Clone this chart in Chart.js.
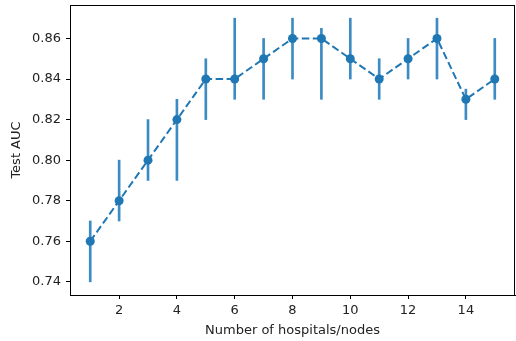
<!DOCTYPE html>
<html>
<head>
<meta charset="utf-8">
<script src="https://cdn.jsdelivr.net/npm/chart.js@4/dist/chart.umd.min.js"></script>
<style>
  html, body { margin: 0; padding: 0; background: #fff; }
  #wrap { width: 516px; height: 341px; }
</style>
</head>
<body>
<div id="wrap"><canvas id="aucChart"></canvas></div>
<script>
const nodes = [1, 2, 3, 4, 5, 6, 7, 8, 9, 10, 11, 12, 13, 14, 15];
const auc   = [0.76, 0.78, 0.80, 0.82, 0.84, 0.84, 0.85, 0.86, 0.86, 0.85, 0.84, 0.85, 0.86, 0.83, 0.84];
const aucLow  = [0.74, 0.77, 0.79, 0.79, 0.82, 0.83, 0.83, 0.84, 0.83, 0.84, 0.83, 0.84, 0.84, 0.82, 0.83];
const aucHigh = [0.77, 0.80, 0.82, 0.83, 0.85, 0.87, 0.86, 0.87, 0.865, 0.87, 0.85, 0.86, 0.87, 0.835, 0.86];
const xTicks = [2, 4, 6, 8, 10, 12, 14];
const yTicks = [0.74, 0.76, 0.78, 0.80, 0.82, 0.84, 0.86];

const blue = "#1f77b4";
const font = { family: "DejaVu Sans", size: 13 };
const textColor = "#222";

// full box around the plot area, like matplotlib
const frame = {
    id: "frame",
    afterDraw(chart) {
        const a = chart.chartArea;
        const ctx = chart.ctx;
        ctx.save();
        ctx.strokeStyle = "#000";
        ctx.lineWidth = 1;
        ctx.strokeRect(a.left + 0.5, a.top + 0.5, a.right - a.left - 1, a.bottom - a.top);
        ctx.restore();
    },
};

new Chart(document.getElementById("aucChart"), {
    data: {
        datasets: [
            {
                type: "line",
                data: nodes.map((x, i) => ({ x: x, y: auc[i] })),
                borderColor: blue,
                backgroundColor: blue,
                borderWidth: 2,
                borderDash: [7.5, 3.5],
                pointRadius: 4.5,
                pointBorderWidth: 0,
                pointBackgroundColor: blue,
                clip: false,
                order: 0,
            },
            {
                type: "bar",
                data: nodes.map((x, i) => ({ x: x, y: [aucLow[i], aucHigh[i]] })),
                backgroundColor: "#3d8bc4",
                barThickness: 2,
                order: 1,
            },
        ],
    },
    options: {
        responsive: true,
        maintainAspectRatio: false,
        animation: false,
        layout: { autoPadding: false, padding: { top: 5, right: 1, left: 0, bottom: 0 } },
        plugins: { legend: { display: false }, tooltip: { enabled: false } },
        scales: {
            x: {
                type: "linear",
                min: 0.3,
                max: 15.7,
                offset: false,
                afterBuildTicks: (s) => { s.ticks = xTicks.map((v) => ({ value: v })); },
                afterFit: (s) => { s.height = 46; s.paddingLeft = 0; s.paddingRight = 0; },
                grid: { offset: false, drawOnChartArea: false, drawTicks: true, tickLength: 4, color: "#000" },
                border: { color: "#000" },
                ticks: { font: font, color: textColor, padding: 4, maxRotation: 0 },
                title: { display: true, text: "Number of hospitals/nodes", font: font, color: textColor, padding: { top: 0, bottom: 3 } },
            },
            y: {
                type: "linear",
                min: 0.7335,
                max: 0.8765,
                afterBuildTicks: (s) => { s.ticks = yTicks.map((v) => ({ value: v })); },
                afterFit: (s) => { s.width = 70; s.paddingTop = 0; s.paddingBottom = 0; },
                grid: { drawOnChartArea: false, drawTicks: true, tickLength: 4, color: "#000" },
                border: { color: "#000" },
                ticks: { font: font, color: textColor, padding: 5, callback: (v) => v.toFixed(2) },
                title: { display: true, text: "Test AUC", font: font, color: textColor, padding: { top: 9, bottom: 0 } },
            },
        },
    },
    plugins: [frame],
});
</script>
</body>
</html>
